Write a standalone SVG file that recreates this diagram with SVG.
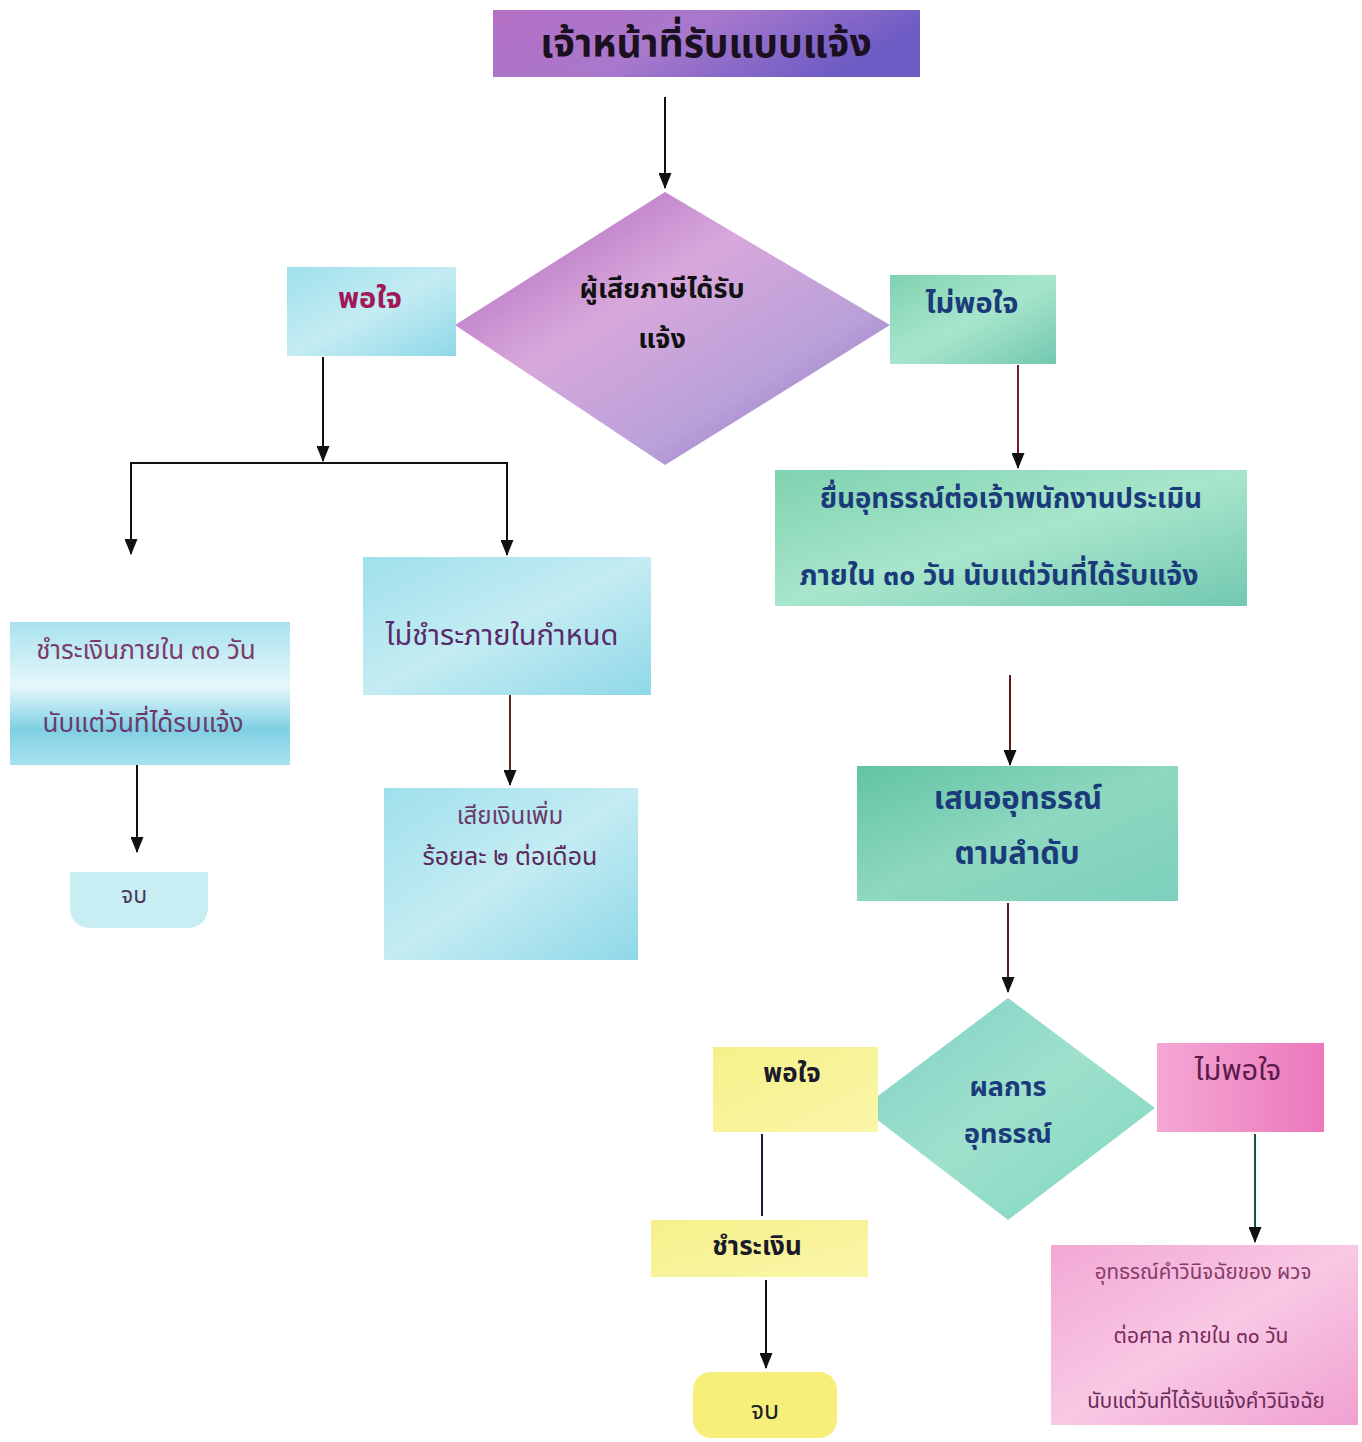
<svg xmlns="http://www.w3.org/2000/svg" width="1362" height="1442" viewBox="0 0 1362 1442">
<defs>
<linearGradient id="gTitle" x1="0" y1="0" x2="1" y2="0.3"><stop offset="0" stop-color="#b46fc4"/><stop offset="0.5" stop-color="#a878cc"/><stop offset="1" stop-color="#6d5cc4"/></linearGradient>
<linearGradient id="gD1" x1="0" y1="0" x2="1" y2="1"><stop offset="0" stop-color="#a85cb8"/><stop offset="0.4" stop-color="#d8a8dc"/><stop offset="0.7" stop-color="#b8a0d8"/><stop offset="1" stop-color="#8a5cc0"/></linearGradient>
<linearGradient id="gCyan" x1="0" y1="0" x2="1" y2="1"><stop offset="0" stop-color="#9fe0ec"/><stop offset="0.5" stop-color="#c4ecf2"/><stop offset="1" stop-color="#8fd8e8"/></linearGradient>
<linearGradient id="gCyan2" x1="0" y1="0" x2="0" y2="1"><stop offset="0" stop-color="#a8e2ee"/><stop offset="0.45" stop-color="#e6f7fa"/><stop offset="0.75" stop-color="#7fd0e4"/><stop offset="1" stop-color="#a9e2ee"/></linearGradient>
<linearGradient id="gGreen" x1="0" y1="0" x2="1" y2="1"><stop offset="0" stop-color="#7fd2b0"/><stop offset="0.5" stop-color="#a8e6cc"/><stop offset="1" stop-color="#72c8b0"/></linearGradient>
<linearGradient id="gTeal" x1="0" y1="0" x2="1" y2="1"><stop offset="0" stop-color="#62c4a4"/><stop offset="0.5" stop-color="#8ed8c0"/><stop offset="1" stop-color="#7cd0bc"/></linearGradient>
<linearGradient id="gD2" x1="0" y1="0" x2="1" y2="1"><stop offset="0" stop-color="#7ed0c8"/><stop offset="0.5" stop-color="#9ee0cc"/><stop offset="1" stop-color="#7fd8c0"/></linearGradient>
<linearGradient id="gYellow" x1="0" y1="0" x2="1" y2="1"><stop offset="0" stop-color="#f6f08a"/><stop offset="1" stop-color="#faf6a8"/></linearGradient>
<linearGradient id="gPink" x1="0" y1="0" x2="1" y2="0"><stop offset="0" stop-color="#f4a8d4"/><stop offset="1" stop-color="#ec78bc"/></linearGradient>
<linearGradient id="gPink2" x1="0" y1="0" x2="1" y2="1"><stop offset="0" stop-color="#f2a8d4"/><stop offset="0.5" stop-color="#f8c8e4"/><stop offset="1" stop-color="#f0a0d0"/></linearGradient>
<marker id="ahk" viewBox="0 0 16 13" refX="15" refY="6.5" markerWidth="16" markerHeight="13" markerUnits="userSpaceOnUse" orient="auto"><path d="M0,0 L16,6.5 L0,13 z" fill="#111"/></marker>
</defs>
<style>
text{font-family:"Noto Sans Thai","Noto Sans","DejaVu Sans",sans-serif;text-anchor:middle;dominant-baseline:middle}
.b{font-weight:bold}
.navy{fill:#1a3a7a}
.c{stroke-width:2;fill:none}
</style>
<rect width="1362" height="1442" fill="#ffffff"/>
<g id="connectors">
<line class="c" x1="665" y1="97" x2="665" y2="188" stroke="#111" marker-end="url(#ahk)"/>
<line class="c" x1="323" y1="357" x2="323" y2="461" stroke="#111" marker-end="url(#ahk)"/>
<polyline class="c" points="131,540 131,463 507,463 507,540" stroke="#111"/>
<line class="c" x1="131" y1="470" x2="131" y2="554" stroke="#111" marker-end="url(#ahk)"/>
<line class="c" x1="507" y1="470" x2="507" y2="555" stroke="#111" marker-end="url(#ahk)"/>
<line class="c" x1="137" y1="763" x2="137" y2="852" stroke="#111" marker-end="url(#ahk)"/>
<line class="c" x1="510" y1="695" x2="510" y2="785" stroke="#5a2a22" marker-end="url(#ahk)"/>
<line class="c" x1="1018" y1="365" x2="1018" y2="468" stroke="#7a1a22" marker-end="url(#ahk)"/>
<line class="c" x1="1010" y1="675" x2="1010" y2="765" stroke="#5a1a1a" marker-end="url(#ahk)"/>
<line class="c" x1="1008" y1="903" x2="1008" y2="992" stroke="#5a1a1a" marker-end="url(#ahk)"/>
<line class="c" x1="762" y1="1134" x2="762" y2="1216" stroke="#1a1a3a"/>
<line class="c" x1="766" y1="1280" x2="766" y2="1368" stroke="#111" marker-end="url(#ahk)"/>
<line class="c" x1="1255" y1="1134" x2="1255" y2="1242" stroke="#0f5a3a" marker-end="url(#ahk)"/>
</g>
<g id="title">
<rect x="493" y="10" width="427" height="67" fill="url(#gTitle)"/>
<text class="b" x="706" y="46" font-size="39" fill="#1a1020">เจ้าหน้าที่รับแบบแจ้ง</text>
</g>
<g id="decision1">
<polygon points="665,192 890,325 665,465 455,325" fill="url(#gD1)"/>
<text class="b" x="662" y="290" font-size="27" fill="#111">ผู้เสียภาษีได้รับ</text>
<text class="b" x="662" y="340" font-size="27" fill="#111">แจ้ง</text>
</g>
<g id="satisfied1">
<rect x="287" y="267" width="169" height="89" fill="url(#gCyan)"/>
<text class="b" x="370" y="300" font-size="29" fill="#a0185a">พอใจ</text>
</g>
<g id="unsatisfied1">
<rect x="890" y="275" width="166" height="89" fill="url(#gGreen)"/>
<text class="b" x="972" y="305" font-size="29" fill="#1a3a7a">ไม่พอใจ</text>
</g>
<g id="pay30">
<rect x="10" y="622" width="280" height="143" fill="url(#gCyan2)"/>
<text x="146" y="652" font-size="26" fill="#7a3a6a">ชำระเงินภายใน ๓๐ วัน</text>
<text x="143" y="725" font-size="26" fill="#6a3a6a">นับแต่วันที่ได้รบแจ้ง</text>
</g>
<g id="end1">
<path d="M70,872 H208 V906 Q208,928 186,928 H92 Q70,928 70,906 Z" fill="#c8eef4"/>
<text x="134" y="897" font-size="23" fill="#4a3a5a">จบ</text>
</g>
<g id="notpaid">
<rect x="363" y="557" width="288" height="138" fill="url(#gCyan)"/>
<text x="502" y="637" font-size="29" fill="#5a2a6a">ไม่ชำระภายในกำหนด</text>
</g>
<g id="surcharge">
<rect x="384" y="788" width="254" height="172" fill="url(#gCyan)"/>
<text x="510" y="817" font-size="24" fill="#6a3a6a">เสียเงินเพิ่ม</text>
<text x="510" y="858" font-size="25" fill="#5a2a5a">ร้อยละ ๒ ต่อเดือน</text>
</g>
<g id="appeal">
<rect x="775" y="470" width="472" height="136" fill="url(#gGreen)"/>
<text class="b navy" x="1011" y="500" font-size="27.5">ยื่นอุทธรณ์ต่อเจ้าพนักงานประเมิน</text>
<text class="b navy" x="999" y="577" font-size="28.5">ภายใน ๓๐ วัน นับแต่วันที่ได้รับแจ้ง</text>
</g>
<g id="forward">
<rect x="857" y="766" width="321" height="135" fill="url(#gTeal)"/>
<text class="b navy" x="1018" y="800" font-size="31">เสนออุทธรณ์</text>
<text class="b navy" x="1017" y="855" font-size="31">ตามลำดับ</text>
</g>
<g id="decision2">
<polygon points="1008,998 1155,1108 1008,1220 862,1108" fill="url(#gD2)"/>
<text class="b navy" x="1008" y="1088" font-size="27">ผลการ</text>
<text class="b navy" x="1008" y="1135" font-size="27">อุทธรณ์</text>
</g>
<g id="satisfied2">
<rect x="713" y="1047" width="165" height="85" fill="url(#gYellow)"/>
<text x="792" y="1075" font-size="26" fill="#1a1a2a" class="b">พอใจ</text>
</g>
<g id="unsatisfied2">
<rect x="1157" y="1043" width="167" height="89" fill="url(#gPink)"/>
<text x="1238" y="1072" font-size="29" fill="#5a1a4a">ไม่พอใจ</text>
</g>
<g id="pay">
<rect x="651" y="1220" width="217" height="57" fill="url(#gYellow)"/>
<text class="b" x="757" y="1248" font-size="26" fill="#1a1a2a">ชำระเงิน</text>
</g>
<g id="end2">
<rect x="693" y="1372" width="144" height="66" rx="18" fill="#f6f07a"/>
<text x="765" y="1412" font-size="25" fill="#1a1a2a">จบ</text>
</g>
<g id="court">
<rect x="1051" y="1245" width="307" height="180" fill="url(#gPink2)"/>
<text x="1203" y="1273" font-size="20.5" fill="#8a3a6a">อุทธรณ์คำวินิจฉัยของ ผวจ</text>
<text x="1201" y="1337" font-size="21" fill="#7a2a5a">ต่อศาล ภายใน ๓๐ วัน</text>
<text x="1206" y="1402" font-size="20.5" fill="#6a2a5a">นับแต่วันที่ได้รับแจ้งคำวินิจฉัย</text>
</g>
</svg>
